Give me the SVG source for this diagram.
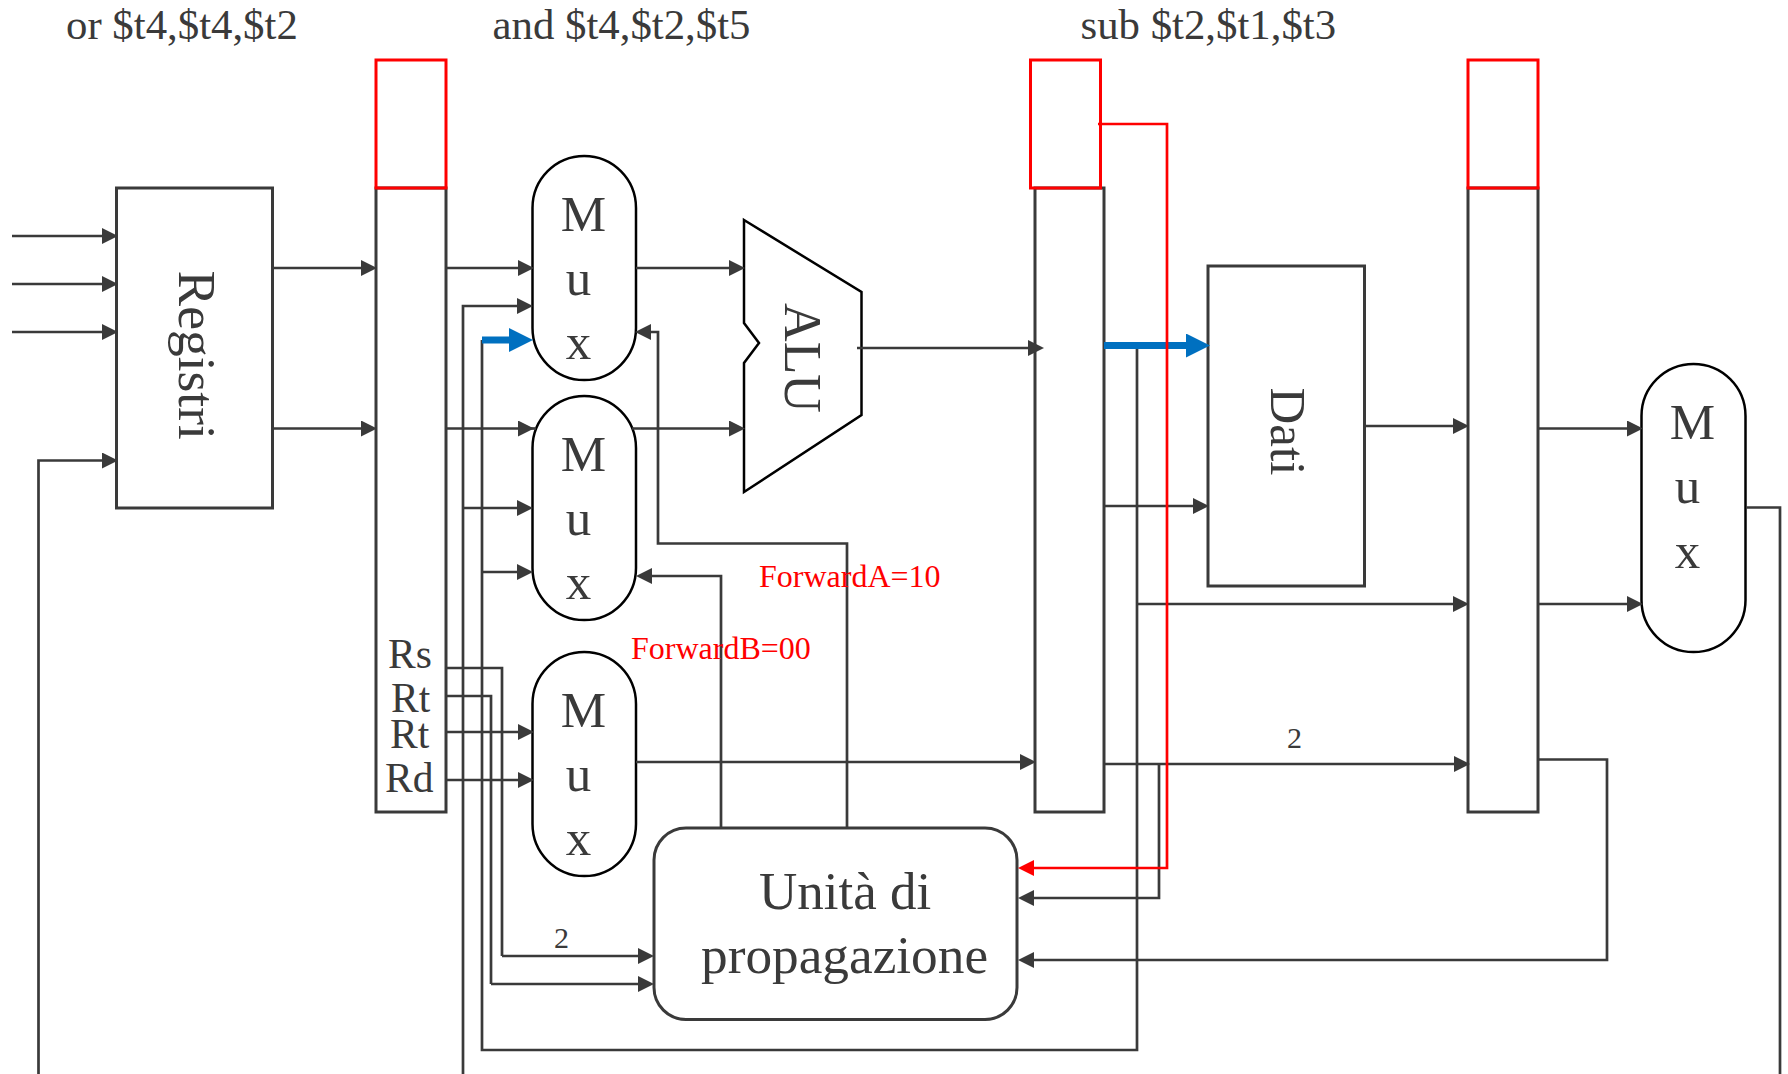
<svg xmlns="http://www.w3.org/2000/svg" width="1788" height="1074" viewBox="0 0 1788 1074">
<style>
text{font-family:"Liberation Serif","Times New Roman",serif;fill:#3a3a3a}
.b{fill:none;stroke:#3a3a3a;stroke-width:3}
.k{fill:#fff;stroke:#000;stroke-width:2.5}
.r{fill:none;stroke:#f00;stroke-width:3}
.w{fill:none;stroke:#3a3a3a;stroke-width:2.7}
.a{marker-end:url(#ar)}
.ra{fill:none;stroke:#f00;stroke-width:2.7;marker-end:url(#arr)}
.bl{fill:none;stroke:#0070c0;stroke-width:7;marker-end:url(#arb)}
.t43{font-size:42.800px}.t41{font-size:41.500px}.t53{font-size:53.500px}.t51{font-size:51px}.t30{font-size:30px}
.red{fill:#f00;font-size:32px}
</style>
<defs>
<marker id="ar" viewBox="0 0 16 16" markerUnits="userSpaceOnUse" markerWidth="16" markerHeight="16" refX="10" refY="8" orient="auto"><path d="M0,0L16,8L0,16z" fill="#3a3a3a"/></marker>
<marker id="arr" viewBox="0 0 16 16" markerUnits="userSpaceOnUse" markerWidth="16" markerHeight="16" refX="10" refY="8" orient="auto"><path d="M0,0L16,8L0,16z" fill="#f00"/></marker>
<marker id="arb" viewBox="0 0 24 24" markerUnits="userSpaceOnUse" markerWidth="24" markerHeight="24" refX="12" refY="12" orient="auto"><path d="M0,0L24,12L0,24z" fill="#0070c0"/></marker>
</defs>
<rect width="1788" height="1074" fill="#fff"/>
<g id="instructions">
<text class="t43" x="66" y="38.500">or $t4,$t4,$t2</text>
<text class="t43" x="492.500" y="38.500">and $t4,$t2,$t5</text>
<text class="t43" x="1080.500" y="38.500">sub $t2,$t1,$t3</text>
</g>
<g id="registri"><rect class="b" x="116.500" y="188" width="156" height="320"/><text class="t53" transform="translate(179,270.500) rotate(90)">Registri</text></g>
<g id="pipe1"><rect class="b" x="376" y="188" width="70" height="624"/><rect class="r" x="376" y="60" width="70" height="128"/>
<text class="t41" x="388" y="668">Rs</text><text class="t41" x="391" y="712">Rt</text><text class="t41" x="390" y="748">Rt</text><text class="t41" x="385" y="792">Rd</text></g>
<g id="pipe2"><rect class="b" x="1035" y="188" width="69" height="624"/><rect class="r" x="1030.500" y="60" width="70" height="128"/></g>
<g id="pipe3"><rect class="b" x="1468" y="188" width="70" height="624"/><rect class="r" x="1468" y="60" width="70" height="128"/></g>
<g id="mux1"><rect class="k" x="532.500" y="156" width="103.500" height="224" rx="52" ry="52"/><text class="t51" x="583.500" y="231" text-anchor="middle">M</text><text class="t51" x="578.500" y="295" text-anchor="middle">u</text><text class="t51" x="578.500" y="359" text-anchor="middle">x</text></g>
<g id="mux2"><rect class="k" x="532.500" y="396" width="103.500" height="224" rx="52" ry="52"/><text class="t51" x="583.500" y="471" text-anchor="middle">M</text><text class="t51" x="578.500" y="535" text-anchor="middle">u</text><text class="t51" x="578.500" y="599" text-anchor="middle">x</text></g>
<g id="mux3"><rect class="k" x="532.500" y="652" width="103.500" height="224" rx="52" ry="52"/><text class="t51" x="583.500" y="727" text-anchor="middle">M</text><text class="t51" x="578.500" y="791" text-anchor="middle">u</text><text class="t51" x="578.500" y="855" text-anchor="middle">x</text></g>
<g id="mux4"><rect class="k" x="1641.500" y="364" width="104" height="288" rx="52" ry="52"/><text class="t51" x="1692.500" y="439" text-anchor="middle">M</text><text class="t51" x="1687.500" y="503" text-anchor="middle">u</text><text class="t51" x="1687.500" y="568" text-anchor="middle">x</text></g>
<g id="alu"><polygon class="k" points="744,220 861.500,292 861.500,415 744,492 744,363 759,343 744,323"/><text style="font-size:53.500px" transform="translate(785,303) rotate(90)">ALU</text></g>
<g id="dati"><rect class="b" x="1208" y="266" width="156.500" height="320"/><text class="t51" transform="translate(1271,387.500) rotate(90)">Dati</text></g>
<g id="unit"><rect class="b" x="654" y="828" width="363" height="191.500" rx="32" ry="32"/><text style="font-size:53px" x="759" y="909">Unità di</text><text style="font-size:53.300px" x="701" y="973">propagazione</text></g>
<g id="connectors">
<path class="w a" d="M12,236H112"/>
<path class="w a" d="M12,284H112"/>
<path class="w a" d="M12,332H112"/>
<path class="w a" d="M38.500,1074V460.500H112"/>
<path class="w a" d="M273,268H371"/>
<path class="w a" d="M273,428.500H371"/>
<path class="w a" d="M446,268H528"/>
<path class="w a" d="M446,428.500H528"/>
<path class="w" d="M528,428.500H536"/>
<path class="w a" d="M463,1074V306H527"/>
<path class="w a" d="M463,508H527"/>
<path class="w a" d="M482,572H527"/>
<path class="w" d="M482,340V1050H1137V345"/>
<path class="bl" d="M482,340H521"/>
<path class="w a" d="M636,268H739"/>
<path class="w a" d="M632,428.500H739"/>
<path class="w a" d="M857,348H1038"/>
<path class="w a" d="M847,827V543.500H658V332H641"/>
<path class="w a" d="M721,827V576H642"/>
<path class="w" d="M446,668H502V956"/>
<path class="w a" d="M502,956H648"/>
<path class="w" d="M446,696H491V984"/>
<path class="w a" d="M491,984H648"/>
<path class="w a" d="M446,732H528"/>
<path class="w a" d="M446,780H528"/>
<path class="w a" d="M636,762H1030"/>
<path class="w a" d="M1104,764H1464"/>
<path class="w a" d="M1159,764V898H1024"/>
<path class="w a" d="M1104,506H1203"/>
<path class="bl" d="M1104,345.500H1198"/>
<path class="w a" d="M1137,604H1463"/>
<path class="w a" d="M1365,426H1463"/>
<path class="w a" d="M1538,428.500H1637"/>
<path class="w a" d="M1538,604H1637"/>
<path class="w" d="M1746,507.500H1780V1074"/>
<path class="w a" d="M1538,759.500H1607V960H1024"/>
<path class="ra" d="M1098,124H1167V868H1024"/>
</g>
<g id="labels">
<text class="t30" x="554" y="948">2</text>
<text class="t30" x="1287" y="748">2</text>
<text class="red" x="759" y="587">ForwardA=10</text>
<text class="red" x="631" y="659">ForwardB=00</text>
</g>
</svg>
